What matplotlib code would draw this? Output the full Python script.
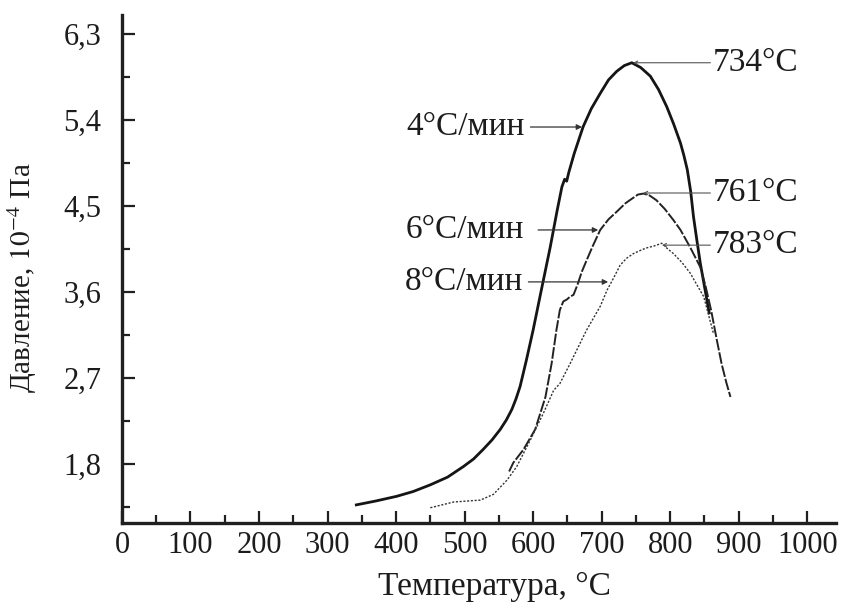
"""Pressure vs temperature for three heating rates."""

import numpy as np
import matplotlib
matplotlib.use('Agg')
import matplotlib.pyplot as plt
from matplotlib.ticker import FixedLocator

# =============================================================================
# Data
# =============================================================================
T_4 = [342, 370, 401, 425, 450, 475, 498, 513, 527, 540, 552, 561, 569, 575,
       581, 590, 600, 612, 625, 635, 642, 646, 649, 652, 660, 673, 685, 698,
       710, 722, 733, 744, 757, 771, 783, 795, 805, 815, 820, 825, 830, 834,
       839, 844, 851, 857]
P_4 = [1.37, 1.41, 1.46, 1.51, 1.58, 1.66, 1.77, 1.85, 1.95, 2.05, 2.16, 2.26,
       2.37, 2.48, 2.61, 2.88, 3.20, 3.62, 4.07, 4.45, 4.70, 4.78, 4.76, 4.85,
       5.05, 5.33, 5.52, 5.68, 5.82, 5.91, 5.97, 6.00, 5.95, 5.86, 5.72, 5.54,
       5.36, 5.16, 5.03, 4.88, 4.65, 4.39, 4.14, 3.90, 3.62, 3.38]

T_6 = [565, 571, 586, 603, 618, 627, 634, 639, 644, 649, 654, 659, 665, 671,
       678, 687, 698, 710, 722, 735, 745, 753, 761, 770, 780, 792, 805, 815,
       829, 844, 852, 860, 868, 875, 882, 888]
P_6 = [1.72, 1.81, 1.95, 2.16, 2.50, 2.85, 3.20, 3.41, 3.50, 3.52, 3.55, 3.57,
       3.68, 3.81, 3.93, 4.08, 4.25, 4.36, 4.44, 4.53, 4.58, 4.62, 4.63, 4.61,
       4.56, 4.47, 4.35, 4.25, 4.07, 3.86, 3.65, 3.40, 3.10, 2.85, 2.65, 2.50]

T_8 = [450, 484, 523, 542, 562, 576, 596, 615, 630, 639, 654, 678, 698, 708,
       717, 727, 736, 746, 755, 765, 776, 788, 795, 805, 817, 829, 849, 863]
P_8 = [1.34, 1.40, 1.42, 1.48, 1.63, 1.77, 2.05, 2.33, 2.57, 2.64, 2.85, 3.20,
       3.45, 3.62, 3.74, 3.88, 3.95, 4.00, 4.03, 4.06, 4.08, 4.11, 4.06, 4.00,
       3.91, 3.80, 3.55, 3.17]

X_TICKS = list(range(0, 1001, 100))
Y_TICKS = [1.8, 2.7, 3.6, 4.5, 5.4, 6.3]
Y_LABELS = ['1,8', '2,7', '3,6', '4,5', '5,4', '6,3']

RATE_LABELS = ['4°C/мин', '6°C/мин', '8°C/мин']
PEAK_LABELS = ['734°C', '761°C', '783°C']

# =============================================================================
# Plot
# =============================================================================
plt.rcParams['font.family'] = ['Liberation Serif', 'DejaVu Serif']
plt.rcParams['mathtext.fontset'] = 'stix'
TXT = '#1c1c1c'

fig = plt.figure(figsize=(8.47, 6.05), dpi=100)
ax = fig.add_axes([0.1440, 0.1355, 0.8430, 0.8397])

ax.plot(T_4, P_4, color='#151515', linewidth=2.0, solid_joinstyle='round')
ax.plot(T_6, P_6, color='#222222', linewidth=1.4, linestyle=(0, (6, 1)))
ax.plot(T_8, P_8, color='#333333', linewidth=1.0, linestyle=(0, (1.5, 1.2)))

ax.set_xlim(0, 1042)
ax.set_ylim(1.18, 6.5)

for side in ['top', 'right']:
    ax.spines[side].set_visible(False)
for side in ['left', 'bottom']:
    ax.spines[side].set_linewidth(2.4)
    ax.spines[side].set_color('#202020')

ax.set_xticks(X_TICKS)
ax.xaxis.set_minor_locator(FixedLocator([x + 50 for x in X_TICKS[:-1]]))
ax.set_yticks(Y_TICKS)
ax.set_yticklabels(Y_LABELS)
ax.yaxis.set_minor_locator(FixedLocator([y - 0.45 for y in Y_TICKS]))

ax.tick_params(which='both', direction='in', color='#202020', width=1.6)
ax.tick_params(which='major', length=9, labelsize=22, labelcolor=TXT)
ax.tick_params(which='minor', length=5.5)
ax.tick_params(axis='x', which='major', pad=6)
ax.tick_params(axis='y', which='major', pad=15)

fig.text(22 / 847, 1 - 278 / 605, 'Давление, $10^{-4}$ Па', rotation=90,
         ha='center', va='center', fontsize=21, color=TXT)
fig.text(494 / 847, 10 / 605, 'Температура, °C', ha='center', va='baseline',
         fontsize=24, color=TXT)

# -----------------------------------------------------------------------------
# Heating rate labels with arrows
# -----------------------------------------------------------------------------
rate_text_x = [588, 587, 585]
rate_text_y = [5.327, 4.249, 3.705]
rate_tip_x = [671.5, 695, 709.5]
rate_shrink = [2, 8, 2]
for lab, tx, ty, px, sh in zip(RATE_LABELS, rate_text_x, rate_text_y,
                               rate_tip_x, rate_shrink):
    ax.annotate(lab, xy=(px, ty), xytext=(tx, ty), ha='right', va='center',
                fontsize=24, color=TXT,
                arrowprops=dict(arrowstyle='-|>', color='#333333', lw=0.9,
                                mutation_scale=8, shrinkA=sh, shrinkB=0))

# -----------------------------------------------------------------------------
# Peak labels
# -----------------------------------------------------------------------------
peak_x = [746, 760.6, 788]
peak_y = [6.0, 4.636, 4.09]
for lab, px, py in zip(PEAK_LABELS, peak_x, peak_y):
    ax.annotate(lab, xy=(px, py), xytext=(862.8, py), ha='left', va='center',
                fontsize=24, color=TXT,
                arrowprops=dict(arrowstyle='->', color='#555555', lw=0.8,
                                mutation_scale=6, shrinkA=0, shrinkB=0))

fig.savefig('out.png', dpi=100)
